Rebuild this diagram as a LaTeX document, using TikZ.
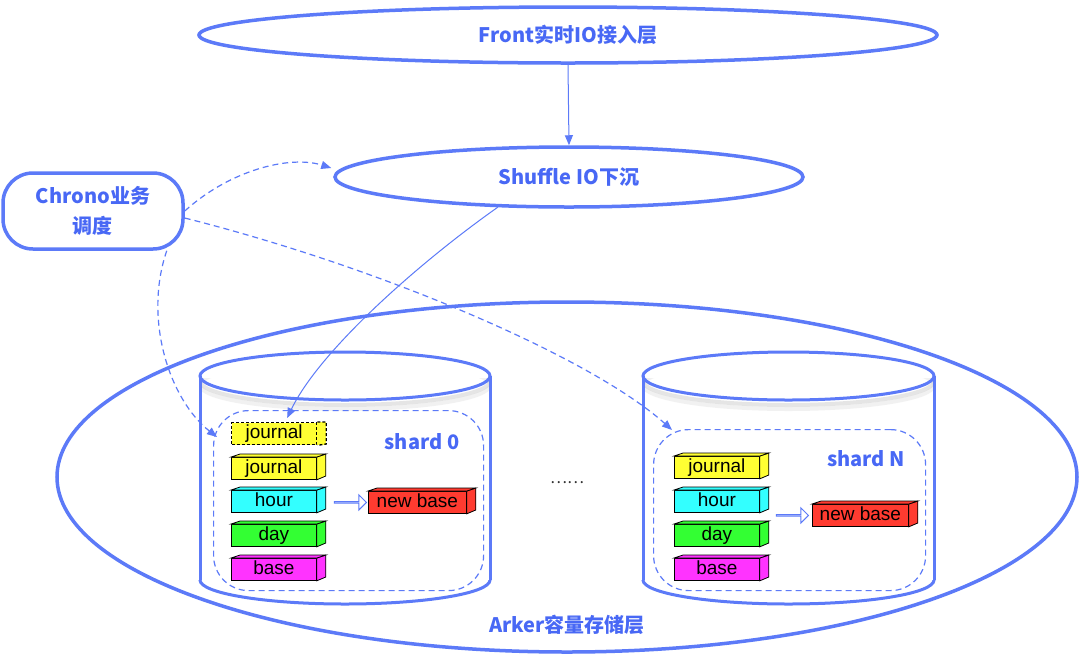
\documentclass[tikz,border=0pt]{standalone}
\usepackage{fontspec}
\setmainfont{Liberation Sans}
\newfontfamily\cjk{Noto Sans CJK SC}
\usetikzlibrary{shapes.geometric,shapes.arrows,arrows.meta,calc}
\definecolor{bm}{RGB}{92,122,248}
\definecolor{bt}{RGB}{72,104,245}
\definecolor{cyel}{RGB}{255,255,51}
\definecolor{ccya}{RGB}{51,255,255}
\definecolor{cgrn}{RGB}{51,255,51}
\definecolor{cmag}{RGB}{255,51,255}
\definecolor{cred}{RGB}{255,59,48}
\newcommand{\TDBox}[6]{%
  \node[fbox, fill=#5, minimum width=#4, anchor=north west] (#1) at (#2,#3) {#6};
  \filldraw[fill=#5, boxline] (#1.north east) -- ++(9,-3) -- ++(0,22) -- (#1.south east) -- cycle;
  \filldraw[fill=#5, boxline] (#1.north west) -- ++(9,-3) -- ([shift={(9,-3)}]#1.north east) -- (#1.north east) -- cycle;
}
\newcommand{\Cyl}[2]{%
  \pgfmathsetmacro{\cx}{(#1+#2)/2}
  \pgfmathsetmacro{\rx}{(#2-#1)/2}
  \fill[white] (#1,376) rectangle (#2,580);
  \fill[white] (\cx,580) ellipse [x radius=\rx, y radius=24];
  \begin{scope}
    \clip (#1,378) rectangle (#2,420);
    \draw[gray!45, line width=4pt, opacity=0.45] (\cx,381) ellipse [x radius=\rx, y radius=24];
    \draw[gray!30, line width=4pt, opacity=0.35] (\cx,385) ellipse [x radius=\rx, y radius=24];
  \end{scope}
  \draw[cyl] (#1,376) -- (#1,580);
  \draw[cyl] (#2,376) -- (#2,580);
  \begin{scope}
    \clip (#1-5,580) rectangle (#2+5,620);
    \draw[cyl] (\cx,580) ellipse [x radius=\rx, y radius=24];
  \end{scope}
  \draw[cyl] (\cx,376) ellipse [x radius=\rx, y radius=24];
}
\begin{document}
\begin{tikzpicture}[x=1pt,y=-1pt,
  lbl/.style={font=\cjk\bfseries\fontsize{20}{30}\selectfont, text=bt},
  layer/.style={ellipse, draw=bm, line width=3.5pt, inner sep=0pt, fill=white, lbl},
  conn/.style={draw=bm, line width=1pt, -{Triangle[length=10pt,width=8pt]}},
  dconn/.style={conn, dash pattern=on 6pt off 4pt, line width=1.2pt},
  cyl/.style={draw=bm, line width=3pt},
  shard/.style={draw=bm, dash pattern=on 6pt off 4pt, line width=1.2pt, rounded corners=35pt, inner sep=0pt},
  boxline/.style={draw=black, line width=0.8pt},
  fbox/.style={boxline, inner sep=0pt, minimum height=22, font=\fontsize{19}{19}\selectfont, text height=13.5pt, text depth=4pt},
  hollow/.style={single arrow, draw=bm, fill=white, line width=1pt, minimum height=32, minimum width=15, single arrow head extend=4pt, single arrow head indent=0pt, inner sep=0pt}
]
\useasboundingbox (0,0) rectangle (1080,657);
\fill[white] (0,0) rectangle (1080,657);

% storage layer
\node[ellipse, draw=bm, line width=3.5pt, minimum width=1020, minimum height=350, inner sep=0pt] (ark) at (567,477) {};
\node[lbl] (arkl) at (567,625) {Arker容量存储层};

% top layers
\node[layer, minimum width=738, minimum height=56] (front) at (568,35) {Front实时IO接入层};
\node[layer, minimum width=468, minimum height=60] (sh) at (569,177) {Shuffle IO下沉};
\node[draw=bm, line width=3.5pt, rounded corners=30pt, minimum width=180, minimum height=76, fill=white, lbl, align=center] (ch) at (93,211) {Chrono业务\\调度};

% cylinders
\Cyl{200}{490}
\Cyl{643}{934}

% shard areas
\node[shard, minimum width=270, minimum height=180, anchor=north west] (s0) at (213,410) {};
\node[shard, minimum width=272, minimum height=161, anchor=north west] (sN) at (653,429) {};
\node[lbl] (s0l) at (422,442) {shard 0};
\node[lbl] (sNl) at (866,459) {shard N};

% shard 0 contents
\node[fbox, fill=cyel, minimum width=85, anchor=north west, dash pattern=on 3pt off 2pt, line width=1.3pt] (jd) at (231,422) {journal};
\fill[cyel] (jd.north east) rectangle ([shift={(9,0)}]jd.south east);
\draw[black, line width=1.3pt, dash pattern=on 3pt off 2pt] (jd.north east) -- ++(9,0) -- ++(0,22) -- (jd.south east);
\TDBox{j1}{231}{457}{85}{cyel}{journal}
\TDBox{h1}{231}{490}{85}{ccya}{hour}
\TDBox{d1}{231}{524}{85}{cgrn}{day}
\TDBox{b1}{231}{558}{85}{cmag}{base}
\TDBox{nb1}{368}{491}{98}{cred}{new base}
\node[hollow] (ha1) at ($(nb1.west)+(-18,0)$) {};

% shard N contents
\TDBox{j2}{674}{456}{85}{cyel}{journal}
\TDBox{h2}{674}{490}{85}{ccya}{hour}
\TDBox{d2}{674}{524}{85}{cgrn}{day}
\TDBox{b2}{674}{558}{85}{cmag}{base}
\TDBox{nb2}{812}{504}{96}{cred}{new base}
\node[hollow] (ha2) at ($(nb2.west)+(-20,0)$) {};

\node[font=\cjk\fontsize{16}{16}\selectfont, text=black!80] (dots) at (567,483) {……};

% connectors
\draw[conn] (front.south) -- (sh.north);
\draw[conn] (sh.203) .. controls (420,262) and (320,350) .. ([shift={(13,-4)}]jd.north);
\draw[dconn] (ch.east) .. controls (230,170) and (290,155) .. ([shift={(-2,-9)}]sh.west);
\draw[dconn] ([shift={(0,7)}]ch.east) .. controls (383,268) and (592,358) .. ([shift={(19,1)}]sN.north west);
\draw[dconn] ([shift={(-18,0)}]ch.south east) .. controls (143,320) and (170,400) .. ([shift={(4,27)}]s0.north west);
\end{tikzpicture}
\end{document}
